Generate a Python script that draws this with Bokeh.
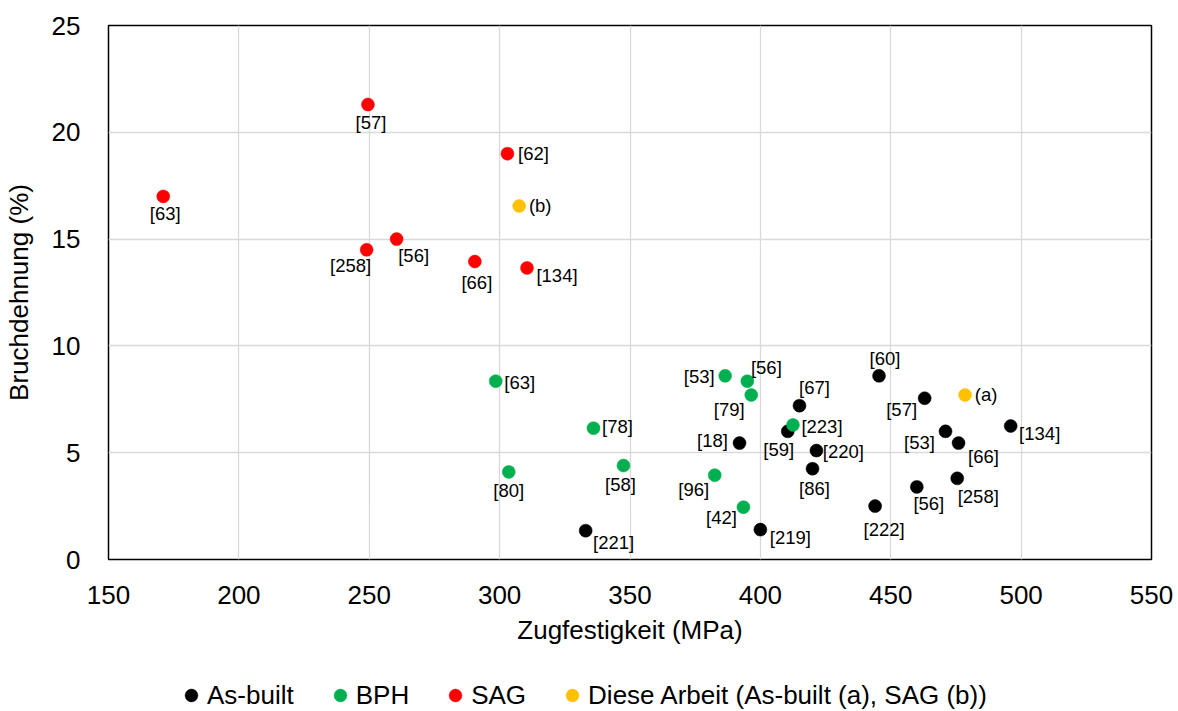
from bokeh.plotting import figure
from bokeh.layouts import column
from bokeh.models import ColumnDataSource, Legend, LegendItem, FixedTicker, Range1d
from bokeh.core.properties import value
from bokeh.embed import file_html
from bokeh.resources import INLINE

FONT = "Liberation Sans"

# ---- data (Zugfestigkeit MPa, Bruchdehnung %) ----
asbuilt_refs = ["[221]", "[219]", "[18]", "[59]", "[67]", "[220]", "[86]", "[60]",
                "[222]", "[57]", "[53]", "[66]", "[56]", "[258]", "[134]"]
asbuilt_x = [333, 400, 392, 410.5, 415, 421.5, 420, 445.5, 444, 463, 471, 476, 460, 475.5, 496]
asbuilt_y = [1.35, 1.4, 5.45, 6.0, 7.2, 5.1, 4.25, 8.6, 2.5, 7.55, 6.0, 5.45, 3.4, 3.8, 6.25]

bph_refs = ["[53]", "[56]", "[79]", "[223]", "[63]", "[78]", "[80]", "[58]", "[96]", "[42]"]
bph_x = [386.5, 395, 396.5, 412.5, 298.5, 336, 303.5, 347.5, 382.5, 393.5]
bph_y = [8.6, 8.35, 7.7, 6.3, 8.35, 6.15, 4.1, 4.4, 3.95, 2.45]

sag_refs = ["[57]", "[62]", "[63]", "[258]", "[56]", "[66]", "[134]"]
sag_x = [249.5, 303, 171, 249, 260.5, 290.5, 310.5]
sag_y = [21.3, 19.0, 17.0, 14.5, 15.0, 13.95, 13.65]

diese_refs = ["(a)", "(b)"]
diese_x = [478.5, 307.5]
diese_y = [7.7, 16.55]

x_ticks = [150, 200, 250, 300, 350, 400, 450, 500, 550]
y_ticks = [0, 5, 10, 15, 20, 25]

series_names = ["As-built", "BPH", "SAG", "Diese Arbeit (As-built (a), SAG (b))"]
series_colors = ["#000000", "#00B050", "#FF0000", "#FFC000"]

# label placement (screen px offsets of label centre from the marker; y down)
label_offsets = {
    "As-built": [(28, 12), (30, 8), (-27, -3), (-9, 18), (15, -18), (27, 1), (2, 20), (6, -17),
                 (9, 23), (-23, 11), (-26, 11), (25, 13), (12, 17), (21, 18), (29, 7)],
    "BPH": [(-26, 1), (19, -14), (-22, 14), (29, 2), (24, 1), (24, -2), (0, 19), (-3, 19),
            (-21, 14), (-22, 10)],
    "SAG": [(3, 18), (26, 0), (2, 17), (-16, 16), (17, 16), (2, 21), (30, 8)],
    "Diese": [(21, -1), (21, 0)],
}

p = figure(width=1178, height=671, output_backend="svg", toolbar_location=None,
           x_range=Range1d(150, 550), y_range=Range1d(0, 25),
           min_border_left=107, min_border_right=27, min_border_top=25, min_border_bottom=112)
p.background_fill_color = "white"
p.border_fill_color = "white"
p.outline_line_color = "#000000"
p.outline_line_width = 1.5

for ax in (p.xaxis[0], p.yaxis[0]):
    ax.major_tick_line_color = None
    ax.minor_tick_line_color = None
    ax.axis_line_color = None
    ax.major_label_text_font = FONT
    ax.major_label_text_font_size = "26px"
    ax.major_label_text_color = "#000000"
    ax.axis_label_text_font = FONT
    ax.axis_label_text_font_size = "26px"
    ax.axis_label_text_font_style = "normal"
    ax.axis_label_text_color = "#000000"

p.xaxis.ticker = FixedTicker(ticks=x_ticks)
p.yaxis.ticker = FixedTicker(ticks=y_ticks)
p.xaxis.axis_label = "Zugfestigkeit (MPa)"
p.yaxis.axis_label = "Bruchdehnung (%)"
p.xaxis.major_label_standoff = 20
p.yaxis.major_label_standoff = 22
p.xaxis.axis_label_standoff = 8
p.yaxis.axis_label_standoff = 15

p.xgrid.grid_line_color = "#D9D9D9"
p.ygrid.grid_line_color = "#D9D9D9"
p.xgrid.grid_line_width = 1.3
p.ygrid.grid_line_width = 1.3

groups = [
    ("As-built", asbuilt_refs, asbuilt_x, asbuilt_y),
    ("BPH", bph_refs, bph_x, bph_y),
    ("SAG", sag_refs, sag_x, sag_y),
    ("Diese", diese_refs, diese_x, diese_y),
]

for (key, refs, xs, ys), col in zip(groups, series_colors):
    offs = label_offsets[key]
    src = ColumnDataSource(dict(x=xs, y=ys, t=refs,
                                dx=[o[0] for o in offs], dy=[o[1] for o in offs]))
    p.scatter("x", "y", source=src, size=13, fill_color=col, line_color=col, line_width=0.5)
    p.text("x", "y", text="t", source=src, x_offset="dx", y_offset="dy",
           text_font=value(FONT), text_font_size="18.5px", text_color="#000000",
           text_align="center", text_baseline="middle")

# ---- legend strip below the chart ----
lf = figure(width=1178, height=40, output_backend="svg", toolbar_location=None,
            x_range=Range1d(0, 1), y_range=Range1d(0, 1),
            x_axis_type=None, y_axis_type=None,
            min_border_left=107, min_border_right=27, min_border_top=0, min_border_bottom=0)
lf.outline_line_color = None
lf.background_fill_color = "white"
lf.border_fill_color = "white"
lf.xgrid.visible = False
lf.ygrid.visible = False

items = []
for name, col in zip(series_names, series_colors):
    r = lf.scatter([-5], [-5], size=13, fill_color=col, line_color=col, line_width=0.5)
    items.append(LegendItem(label=name, renderers=[r]))

legend = Legend(items=items, orientation="horizontal", location=(67, 0),
                glyph_width=32, glyph_height=32, label_standoff=0, spacing=30,
                padding=0, margin=0, border_line_color=None, background_fill_alpha=0,
                label_text_font=FONT, label_text_font_size="26px", label_text_color="#000000")
lf.add_layout(legend, "center")

layout = column(p, lf, spacing=0)
open("out.html", "w").write(file_html(layout, INLINE))
